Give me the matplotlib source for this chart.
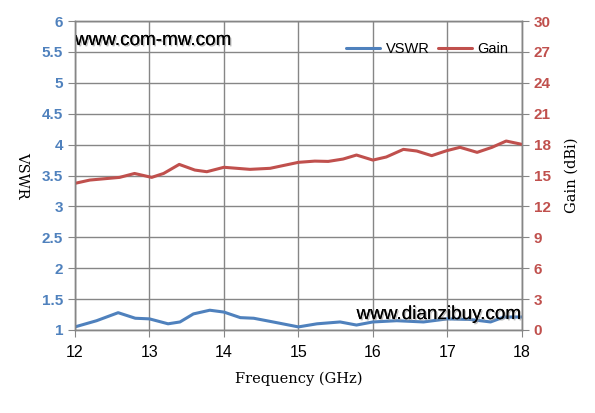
import matplotlib.pyplot as plt
import matplotlib.patheffects as pe

# data
freq_vswr = [12.0, 12.29, 12.58, 12.81, 13.0, 13.25, 13.41, 13.59, 13.81, 14.0,
             14.22, 14.4, 14.66, 15.0, 15.25, 15.56, 15.78, 16.0, 16.32, 16.68,
             17.0, 17.31, 17.58, 17.76, 18.0]
vswr = [1.05, 1.15, 1.28, 1.19, 1.18, 1.10, 1.13, 1.26, 1.32, 1.29,
        1.20, 1.19, 1.13, 1.05, 1.10, 1.13, 1.08, 1.13, 1.15, 1.13,
        1.18, 1.17, 1.13, 1.21, 1.21]

freq_gain = [12.0, 12.2, 12.6, 12.8, 13.03, 13.19, 13.4, 13.61, 13.77, 14.0,
             14.35, 14.62, 15.0, 15.22, 15.4, 15.6, 15.78, 16.0, 16.18, 16.41,
             16.59, 16.79, 16.99, 17.17, 17.4, 17.6, 17.79, 18.0]
gain = [14.24, 14.56, 14.82, 15.2, 14.82, 15.2, 16.08, 15.53, 15.37, 15.8,
        15.6, 15.7, 16.28, 16.4, 16.37, 16.6, 16.99, 16.5, 16.8, 17.54,
        17.38, 16.93, 17.41, 17.74, 17.25, 17.74, 18.35, 18.03]

blue = '#4F81BD'
red = '#C0504D'
grid_c = '#868686'

fig = plt.figure(figsize=(5.95, 4.13), dpi=100)
ax = fig.add_axes([0.126, 0.201, 0.751, 0.748])
ax2 = ax.twinx()

l1, = ax.plot(freq_vswr, vswr, color=blue, lw=2.2, label='VSWR', solid_capstyle='round')
l2, = ax2.plot(freq_gain, gain, color=red, lw=2.2, label='Gain', solid_capstyle='round')

ax.set_xlim(12, 18)
ax.set_ylim(1, 6)
ax2.set_ylim(0, 30)
ax.set_xticks(range(12, 19))
ax.set_yticks([1, 1.5, 2, 2.5, 3, 3.5, 4, 4.5, 5, 5.5, 6])
ax.set_yticklabels(['1', '1.5', '2', '2.5', '3', '3.5', '4', '4.5', '5', '5.5', '6'])
ax2.set_yticks(range(0, 31, 3))

ax.grid(True, color=grid_c, lw=1)
for a in (ax, ax2):
    for s in a.spines.values():
        s.set_color(grid_c)
        s.set_linewidth(1)

ax.tick_params(axis='y', colors=grid_c, labelcolor=blue, length=5, direction='out')
ax2.tick_params(axis='y', colors=grid_c, labelcolor=red, length=5, direction='out')
ax.tick_params(axis='x', colors=grid_c, labelcolor='black', length=5, direction='out', pad=6)
for t in ax.get_yticklabels() + ax2.get_yticklabels():
    t.set_fontfamily('Liberation Sans')
    t.set_fontweight('bold')
    t.set_fontsize(11)
for t in ax.get_xticklabels():
    t.set_fontfamily('Liberation Sans')
    t.set_fontsize(11.5)

ax.set_xlabel('Frequency (GHz)', fontfamily='DejaVu Serif', fontsize=10.5, labelpad=8)
ax.set_ylabel('VSWR', fontfamily='DejaVu Serif', fontsize=10.5, rotation=270, labelpad=14, va='center')
ax2.set_ylabel('Gain (dBi)', fontfamily='DejaVu Serif', fontsize=10.5, labelpad=10)

shadow = [pe.withSimplePatchShadow(offset=(1, -1), shadow_rgbFace='#999999', alpha=0.6), pe.Normal()]
ax.text(0.0, 0.937, 'www.com-mw.com', transform=ax.transAxes, fontsize=13.6,
        fontfamily='Liberation Sans', va='center', ha='left', path_effects=shadow)
ax.text(0.997, 0.05, 'www.dianzibuy.com', transform=ax.transAxes, fontsize=13.6,
        fontfamily='Liberation Sans', va='center', ha='right', path_effects=shadow)

leg = ax.legend(handles=[l1, l2], loc='upper right', bbox_to_anchor=(1.0, 0.975),
                ncol=2, frameon=False, prop={'family': 'Liberation Sans', 'size': 10.5},
                handlelength=2.3, columnspacing=0.6, handletextpad=0.4)

fig.savefig('out.png', dpi=100)
